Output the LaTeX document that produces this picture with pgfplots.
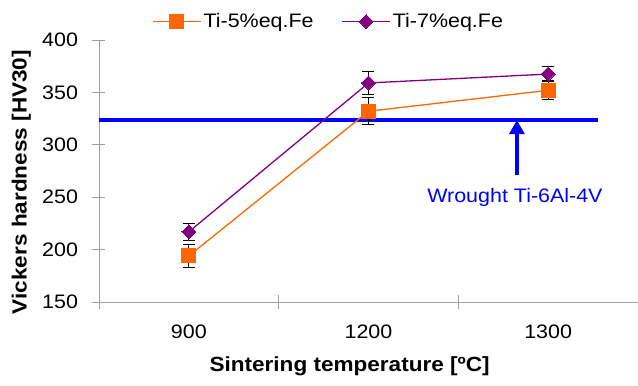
\documentclass[border=0pt]{standalone}
\usepackage{fontspec}
\setmainfont[FakeStretch=1.1]{Liberation Sans}
\usepackage{pgfplots}
\pgfplotsset{compat=1.18}
\usetikzlibrary{arrows.meta}
\definecolor{orangeS}{HTML}{FF6600}
\definecolor{purpleS}{HTML}{800080}
\definecolor{axgray}{HTML}{A0A0A0}
\begin{document}
\begin{tikzpicture}
\useasboundingbox (-99pt,-84pt) rectangle (539pt,302pt);
\begin{axis}[
  at={(0pt,0pt)}, anchor=south west,
  scale only axis, width=539pt, height=262pt,
  xmin=-0.5, xmax=2.5, ymin=150, ymax=400,
  axis x line*=bottom, axis y line*=left,
  axis line style={axgray, line width=0.8pt},
  xtick={-0.5,0.5,1.5,2.5}, xticklabels={},
  extra x ticks={0,1,2}, extra x tick labels={900,1200,1300},
  extra x tick style={major tick length=0pt},
  ytick={150,200,...,400},
  tick align=center,
  major tick length=13pt,
  tick style={axgray, line width=0.8pt},
  /pgf/number format/assume math mode=true,
  tick label style={font=\fontsize{19.5}{22}\selectfont},
  yticklabel style={xshift=-11pt},
  xticklabel style={yshift=-19pt},
  ylabel={\bfseries Vickers hardness [HV30]},
  ylabel style={at={(axis description cs:-0.144,0.458)}, anchor=center, font=\fontsize{20.5}{23}\selectfont},
  xlabel={\bfseries Sintering temperature [ºC]},
  xlabel style={at={(axis description cs:0.465,-0.245)}, anchor=center, font=\fontsize{20.5}{23}\selectfont},
  legend columns=2,
  legend style={draw=none, fill=none, at={(axis description cs:0.426,1.07)}, anchor=center,
    font=\fontsize{19.5}{22}\selectfont,
    /tikz/every even column/.append style={column sep=26pt}},
  legend image code/.code={\draw[mark repeat=2,mark phase=2,#1] plot coordinates {(0pt,0pt) (24pt,0pt) (48pt,0pt)};},
  clip=false,
]
\addplot[blue, line width=3.5pt, forget plot] coordinates {(-0.5,323.5) (2.28,323.5)};
\addplot[blue, line width=3.5pt, -{Triangle[width=15pt,length=14pt]}, forget plot] coordinates {(1.826,271) (1.826,323.5)};
\addplot[orangeS, line width=1.3pt, mark=square*, mark size=7pt,
  mark options={solid, fill=orangeS, draw=orangeS, line width=0pt},
  error bars/.cd, y dir=both, y explicit,
  error bar style={black, line width=1.1pt},
  error mark options={black, line width=1.1pt, mark size=6pt, rotate=90}]
  coordinates {(0,194) +- (0,11) (1,332) +- (0,13) (2,352) +- (0,9)};
\addlegendentry{Ti-5\%eq.Fe}
\addplot[purpleS, line width=1.3pt, mark=square*, mark size=4.95pt,
  mark options={solid, rotate=45, fill=purpleS, draw=purpleS, line width=0pt},
  error bars/.cd, y dir=both, y explicit,
  error bar style={black, line width=1.1pt},
  error mark options={black, line width=1.1pt, mark size=6pt, rotate=90}]
  coordinates {(0,217) +- (0,8) (1,359) +- (0,11) (2,367.5) +- (0,7)};
\addlegendentry{Ti-7\%eq.Fe}
\node[text=blue, font=\fontsize{19.5}{22}\selectfont, anchor=center] at (axis cs:1.815,250) {Wrought Ti-6Al-4V};
\end{axis}
\end{tikzpicture}
\end{document}
